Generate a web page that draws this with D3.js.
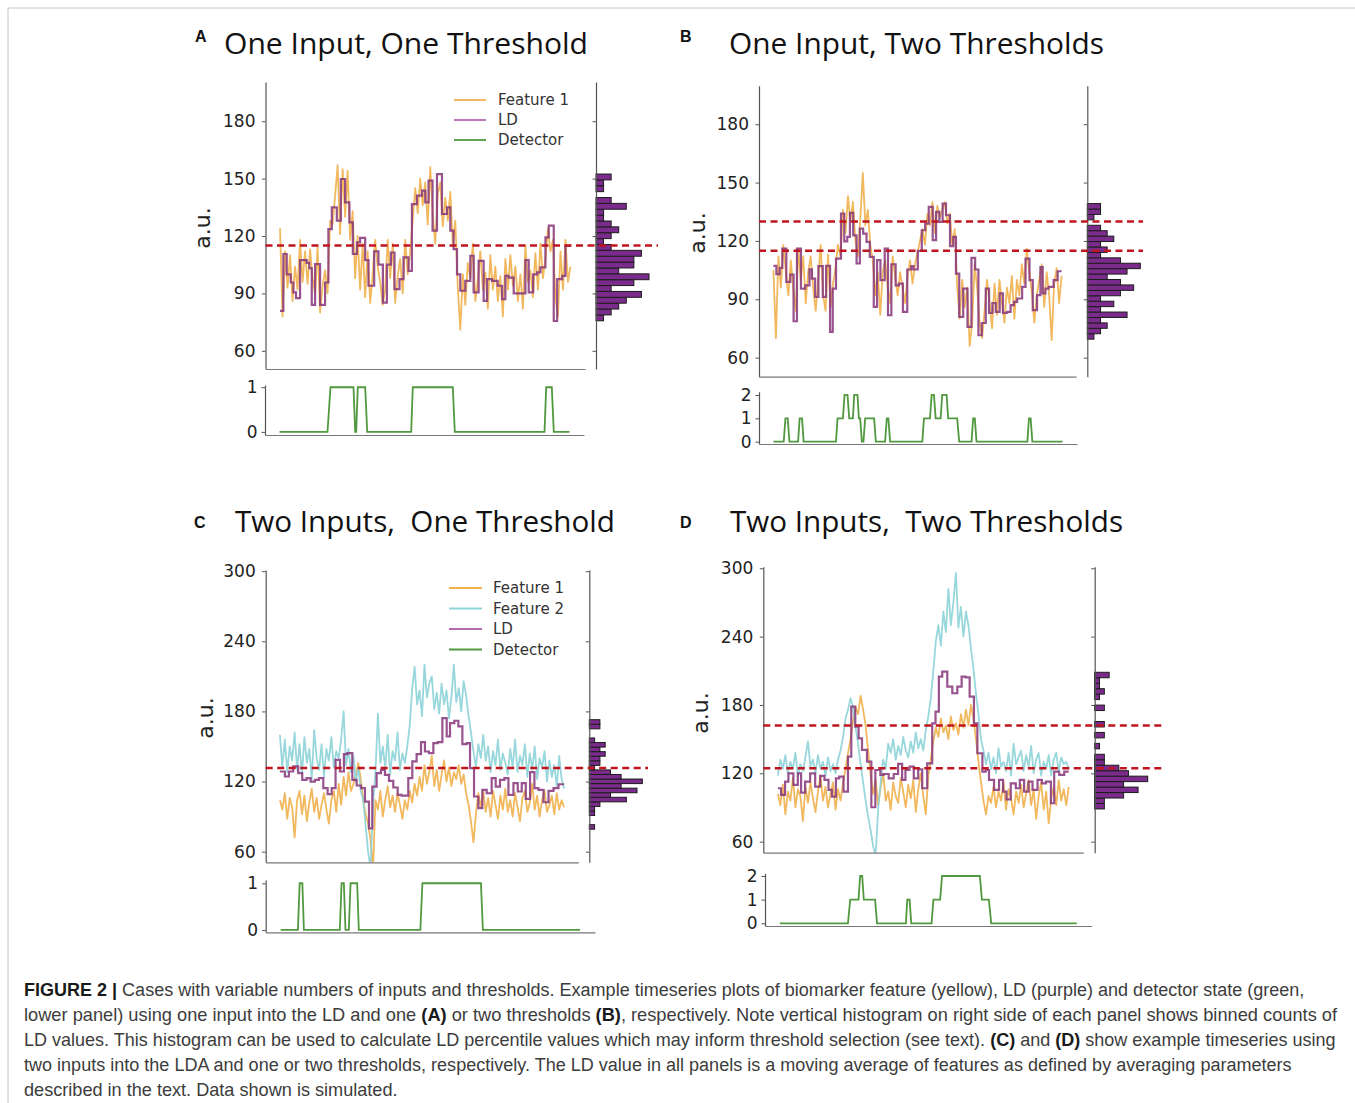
<!DOCTYPE html>
<html>
<head>
<meta charset="utf-8">
<script src="https://cdn.jsdelivr.net/npm/d3@7"></script>
<style>
  body { margin: 0; background: #fff; }
</style>
</head>
<body>
<svg id="fig" width="1355" height="1103"></svg>
<script>
// ---- data (time in samples 0..290, features sampled every 2.5) ----
const T_END = 290;
const STEP = 2.5;

const yTicksAB = [60, 90, 120, 150, 180];
const yTicksCD = [60, 120, 180, 240, 300];
const detTicksOne = [0, 1];
const detTicksTwo = [0, 1, 2];

// Panel A
const featureA1 = [124,78,112,93,110,86,104,92,118,96, 112,95,113,98,90,114,80,94,102,90,
  128,126,141,157,121,155,130,154,118,133, 98,120,92,116,88,112,85,100,118,104,
  96,84,92,118,98,116,85,99,108,90, 118,100,112,128,145,132,150,136,148,126,
  156,130,116,142,148,125,140,128,143,116, 128,93,71,100,84,106,98,116,86,97,
  112,92,101,82,110,92,104,86,99,78, 108,92,110,94,104,86,100,82,115,96,
  102,88,111,92,116,98,108,124,112,118, 88,78,112,92,118,96,104];
const ldA = [[0,80.9],[3.3,110.6],[6.7,100],[10.7,95.7],[13.3,90.5],[16,87.5],[20,107.4],[26.7,106],[29.3,103.2],
  [31.7,84],[35,105.3],[40,84],[45,95.7],[48.3,123.6],[51.7,135],[56.7,128],[60.7,149.8],[65,137.6],[69.3,127.1],
  [72.7,110.6],[76.7,116.7],[80,119],[85,107.4],[88.3,94],[94,112],[98.3,105],[102.7,85.2],[106.7,105],[110.7,111.4],
  [114.3,92.2],[119.3,97.5],[123.3,108.8],[128.3,101.8],[131.7,136.7],[136.7,141.1],[141.7,143.7],[145,137.6],
  [148.3,149],[152.3,122.8],[156.7,152.4],[161.7,131.5],[166.7,135],[170,122.8],[173.3,113.2],[176.7,100],[180,91.4],
  [185,96.6],[190,109.7],[193.3,90.5],[198.3,107],[203.3,86.1],[206.7,97.5],[211.7,96.6],[217.3,94],[221.7,87],
  [225,99.2],[228.3,98.3],[233.3,90],[245,107.4],[248.3,90.5],[252.7,100],[256.7,101],[260,103.6],[265,119.3],
  [268.3,125.4],[273.3,75.6],[276.7,97.5],[281.7,99.2],[285,114.9]];
const detectorA = [[0,0],[48,0],[51,1],[74,1],[75.7,0],[76.7,0],[78.3,1],[85.7,1],[87.7,0],[131.7,0],[133.3,1],
  [173.3,1],[175.3,0],[265,0],[266.7,1],[272.3,1],[274.3,0],[290,0]];
const histRangeA = [75.7, 152.4];
const histCountsA = [1,2,3,4,6,2,5,7,3,5,5,6,2,1,2,3,2,1,1,4,2,0,1,1,2];
const thresholdsA = [115];

// Panel B
const featureB1 = [105,70,112,96,118,104,92,110,95,84, 116,100,112,88,104,112,96,84,100,118,
  92,84,113,86,98,106,118,112,136,124, 143,130,140,120,112,132,155,128,136,118,
  110,92,104,82,104,110,96,88,112,102, 92,104,96,88,102,110,98,108,114,120,
  126,118,134,128,140,124,138,132,136,140, 129,134,118,126,96,80,100,86,96,66,
  78,108,96,78,70,84,100,88,75,98, 82,100,88,78,96,88,102,80,100,92,
  108,98,116,104,94,78,92,100,108,86, 104,92,69,98,106,88,102];
const ldB = [[0,107.2],[3,102.9],[6.3,106.1],[9,116],[13,98.9],[17,102.7],[20.3,78.7],[23.7,116],[27.7,95.5],
  [32,97.2],[36.3,105.4],[38.7,100.6],[42,91.2],[45.3,107],[49.7,91.2],[53,107.2],[57,73.2],[59.7,95.5],[63,110.9],
  [68,134.1],[71.3,119.8],[74.3,122.1],[77,134.4],[80.3,122.9],[83.7,108.4],[87,126.4],[90.3,123.8],[93.7,119.5],
  [97,111.8],[101,86.1],[104.3,110.1],[107.7,99.8],[112,116.1],[115.3,81.8],[118.7,108],[123,97.2],[126.3,98.1],
  [130.3,83.5],[134.7,105.3],[138.7,107],[141,105.3],[145.3,114.9],[149.3,125.5],[152.7,128.9],[156.3,137.5],
  [160.3,120.4],[163.7,134.9],[167,129.8],[170.3,139.2],[173.7,133.2],[177.7,117.3],[181,122.1],[183.7,103.2],
  [187,81],[191,95.5],[195.3,75.8],[199.3,111.3],[203,105.3],[206.3,71.5],[209.7,77.8],[213.7,95.5],[217,83],
  [220.3,88.1],[223.7,83.5],[227.7,93],[231,83],[235.3,83.5],[238.7,87],[242,88.7],[245.3,90.4],[250.3,96.4],
  [253.7,110.9],[257.7,99.8],[261,84.4],[265.3,92.1],[268.7,106.6],[271,93],[273.7,95.5],[277,96.4],[282,99.8],
  [286,104.4]];
const detectorB = [[0,0],[10.3,0],[12,1],[14.3,1],[16,0],[24.7,0],[26.3,1],[28.7,1],[30.3,0],[62.7,0],[64.3,1],
  [69.7,1],[71.3,2],[74.3,2],[76,1],[79.7,1],[81,2],[84.3,2],[85.7,1],[87,1],[88.7,0],[90.3,0],[92,1],[101,1],
  [102.7,0],[112,0],[113.7,1],[115.3,1],[117,0],[149.3,0],[151,1],[157,1],[158.7,2],[161,2],[162.7,1],[167.7,1],
  [169.3,2],[173.7,2],[175.3,1],[184.3,1],[186.3,0],[198.7,0],[200.3,1],[202,1],[203.7,0],[254.7,0],[256.3,1],
  [258,1],[259.7,0],[290,0]];
const histRangeB = [69.5, 139.2];
const histCountsB = [1,2,3,2,6,2,4,2,5,7,5,3,6,8,5,2,3,2,4,3,2,0,1,2,2];
const thresholdsB = [115, 130];

// Panel C
const featureC1 = [104,96,110,88,106,98,72,104,112,92, 108,86,102,114,94,106,88,100,110,96,
  84,104,112,94,118,100,124,108,128,112, 118,126,136,122,104,92,84,70,45,104,
  96,112,90,104,116,98,108,94,110,100, 88,104,96,112,102,118,108,124,112,134,
  118,128,142,116,130,112,126,138,120,132, 116,128,122,134,118,126,110,100,86,68,
  92,110,98,112,94,106,90,112,100,88, 108,96,114,94,104,90,110,98,86,106,
  112,94,102,118,96,108,90,104,112,94, 100,108,92,110,96,104,98];
const featureC2 = [160,132,156,128,150,138,162,130,152,126, 158,136,148,122,164,140,130,152,124,148,
  138,158,132,146,140,156,180,134,148,128, 142,120,132,112,104,82,60,45,100,128,
  178,136,150,132,160,126,146,138,162,130, 144,136,150,168,200,218,186,198,176,220,
  192,204,210,182,196,178,204,186,198,174, 192,220,188,200,180,206,194,176,162,146,
  132,152,140,160,138,150,128,146,134,156, 130,144,136,126,148,132,156,128,142,134,
  152,124,144,130,150,122,140,132,146,120, 138,124,134,116,142,122,114];
const ldC = [[0,128.6],[5.1,124.3],[9.2,128.6],[13.6,132.9],[18.7,127.2],[22.8,121.5],[27.2,122.9],[31.3,120],
  [35.7,121.5],[39.8,122.9],[44.3,114.3],[48.7,109.2],[52.8,114.3],[56.8,138.6],[61.3,128.6],[65.3,143.5],
  [68.8,144.3],[73.9,121.5],[78.3,116.6],[82.7,114.3],[86.8,102.9],[90.9,80],[94.3,115.7],[98.7,127.2],[103.1,130],
  [107.2,125.7],[111.3,120.6],[115.7,114.9],[120.2,108.6],[124.2,108],[131,122.9],[135.1,137.2],[139.5,143.5],
  [144,153.7],[148,145.7],[152.1,144.3],[156.6,152.9],[161,153.7],[165.8,174.3],[170.2,158.6],[173.6,170],
  [178,172],[182.1,167.2],[186.2,152],[190.6,152.9],[194,131.5],[198.1,107.2],[202.5,97.2],[206.6,112.9],
  [211,110],[216.1,122.9],[220.2,115.7],[224.6,121.5],[229.1,122.9],[233.2,108.6],[238.3,118.6],[242.7,111.5],
  [246.8,118.6],[250.9,105.2],[255.3,128],[259.7,114.3],[263.8,112.9],[269,102.3],[274.1,112],[279.2,114.3],
  [284.3,117.7]];
const detectorC = [[0,0],[16.7,0],[18.4,1],[21,1],[22.5,0],[57.3,0],[59,1],[61.2,1],[62.8,0],[66,0],[67.7,1],
  [74.1,1],[75.7,0],[135.3,0],[137.3,1],[194,1],[195.9,0],[290,0]];
const histRangeC = [79.2, 172.9];
const histCountsC = [1,0,0,1,1,2,7,4,9,6,10,6,4,1,2,2,3,2,3,1,0,0,2,2];
const thresholdsC = [131.5];

// Panel D
const featureD1 = [102,92,110,84,104,96,116,90,106,100, 78,108,94,112,98,86,104,118,96,108,
  90,102,112,88,106,96,112,124,138,150, 166,178,172,188,176,162,140,118,102,114,
  92,108,120,96,104,88,112,100,94,116, 104,90,110,98,114,86,106,120,100,84,
  118,132,148,160,152,168,156,162,150,170, 158,164,154,172,160,176,162,180,168,150,
  130,112,96,84,100,94,108,90,104,96, 112,88,106,98,84,104,94,110,90,102,
  114,92,106,80,100,112,88,104,76,98, 108,92,114,96,106,92,108];
const featureD2 = [118,132,124,136,120,130,124,138,118,128, 122,134,148,126,132,120,136,124,130,118,
  134,122,128,120,132,140,152,168,176,186, 178,160,146,128,112,96,82,70,56,48,
  88,112,132,124,146,138,150,132,144,136, 152,140,134,148,138,156,142,150,140,158,
  170,186,210,236,250,232,262,244,282,250, 270,296,248,266,240,262,250,230,212,190,
  172,150,140,128,138,124,134,120,142,126, 130,122,138,118,146,128,134,140,122,136,
  126,144,120,132,138,118,130,124,136,118, 132,138,122,134,128,130,124];
const ldD = [[0,106.9],[3.2,101],[7.2,112.7],[10.5,120],[15.5,109.8],[19.9,120],[23.2,103],[27.2,112.7],[32.2,120],
  [37.2,108.3],[42.2,117.7],[46.5,114.2],[50.5,105.4],[53.9,99.5],[57.9,115.6],[61.2,117.1],[65.5,103.9],
  [69.9,134.6],[73.2,178.5],[77.2,161],[80.5,150.7],[83.9,140.5],[88.9,130.3],[93.2,90.2],[97.2,122.9],
  [102.2,118.6],[105.5,119.4],[110.5,115.6],[115.5,119.4],[119.9,128.2],[123.9,114.2],[127.2,122.9],[131.2,125.9],
  [135.5,115.6],[139.9,123.5],[143.9,106.9],[148.9,128.8],[153.9,163.9],[157.2,174.1],[160.5,204.9],[163.9,209.3],
  [168.9,196.1],[173.9,190.3],[178.9,196.1],[183.2,204.9],[187.2,204.3],[191.2,187.3],[195.5,163.9],[198.9,137.6],
  [203.9,121.5],[207.2,122.9],[210.5,114.2],[215.5,105.4],[220.5,114.2],[224.5,103.9],[227.9,97.2],[232.2,111.2],
  [237.2,106.9],[241.2,114.2],[245.5,103.9],[249.9,112.7],[253.9,105.4],[258.9,114.2],[263.2,111.2],[267.2,112.7],
  [272.2,93.7],[275.5,121.5],[280.5,118.6],[285.5,121.5]];
const detectorD = [[0,0],[66.5,0],[68.7,1],[76.8,1],[78.4,2],[80.4,2],[82,1],[93,1],[94.9,0],[123.1,0],[124.4,1],
  [126.7,1],[128.3,0],[148.1,0],[150,1],[156.5,1],[158.4,2],[195.3,2],[197.3,1],[204.1,1],[206.4,0],[290,0]];
const histRangeD = [88.7, 208.7];
const histCountsD = [2,2,6,9,6,11,7,5,2,2,0,1,0,2,0,2,0,0,2,0,1,2,1,1,3];
const thresholdsD = [124.4, 162];

const captionLines = [
  [["FIGURE 2 | ", true], ["Cases with variable numbers of inputs and thresholds. Example timeseries plots of biomarker feature (yellow), LD (purple) and detector state (green,", false]],
  [["lower panel) using one input into the LD and one ", false], ["(A)", true], [" or two thresholds ", false], ["(B)", true], [", respectively. Note vertical histogram on right side of each panel shows binned counts of", false]],
  [["LD values. This histogram can be used to calculate LD percentile values which may inform threshold selection (see text). ", false], ["(C)", true], [" and ", false], ["(D)", true], [" show example timeseries using", false]],
  [["two inputs into the LDA and one or two thresholds, respectively. The LD value in all panels is a moving average of features as defined by averaging parameters", false]],
  [["described in the text. Data shown is simulated.", false]]
];

// ---- styles ----
const col = {
  feat1: "#f0b04c",
  feat2: "#8dd3d8",
  ld: "#86357a",
  ldLegend: "#b36ab3",
  det: "#51993f",
  thr: "#c0141f",
  hist: "#7b2b8b",
  axis: "#555"
};

const svg = d3.select("#fig");
const defs = svg.append("defs");

// frame
svg.append("path")
  .attr("d", "M8,1103 L8,8 L1355,8")
  .attr("fill", "none")
  .attr("stroke", "#c4c4c4")
  .attr("stroke-width", 1);

function styleAxis(g, size) {
  g.attr("font-family", "DejaVu Sans").attr("font-size", size);
  g.select(".domain").attr("stroke", col.axis).attr("stroke-width", 1.2);
  g.selectAll(".tick line").attr("stroke", col.axis).attr("stroke-width", 1);
  g.selectAll(".tick text").attr("fill", "#222");
}

function drawPanel(p) {
  const g = svg.append("g");
  const xDomain = [-0.05 * T_END, 1.05 * T_END];

  // main time-series axes
  const x = d3.scaleLinear().domain(xDomain).range(p.mainX);
  const y = d3.scaleLinear().domain(p.yDomain).range(p.mainY);

  defs.append("clipPath").attr("id", "clip" + p.key)
    .append("rect")
    .attr("x", p.mainX[0]).attr("y", p.mainY[1])
    .attr("width", p.mainX[1] - p.mainX[0])
    .attr("height", p.mainY[0] - p.mainY[1]);

  const plot = g.append("g").attr("clip-path", `url(#clip${p.key})`);

  const featLine = d3.line().x((d, i) => x(i * STEP)).y(d => y(d));
  p.features.forEach(f => {
    plot.append("path")
      .datum(f.values)
      .attr("d", featLine)
      .attr("fill", "none")
      .attr("stroke", f.color)
      .attr("stroke-width", 1.8)
      .attr("stroke-opacity", 0.9)
      .attr("stroke-linejoin", "round");
  });

  const ldPts = p.ld.concat([[T_END, p.ld[p.ld.length - 1][1]]]);
  plot.append("path")
    .datum(ldPts)
    .attr("d", d3.line().curve(d3.curveStepAfter).x(d => x(d[0])).y(d => y(d[1])))
    .attr("fill", "none")
    .attr("stroke", col.ld)
    .attr("stroke-width", 2.2)
    .attr("stroke-opacity", 0.85);

  // axes of the main plot
  const yAxis = g.append("g")
    .attr("transform", `translate(${p.mainX[0]},0)`)
    .call(d3.axisLeft(y).tickValues(p.yTicks).tickSize(3.5).tickPadding(6.5).tickSizeOuter(0));
  styleAxis(yAxis, 17);

  const xAxis = g.append("g")
    .attr("transform", `translate(0,${p.mainY[0]})`)
    .call(d3.axisBottom(x).tickValues([]).tickSizeOuter(0));
  styleAxis(xAxis, 17);
  xAxis.select(".domain").attr("stroke", "#777");

  // y label
  g.append("text")
    .attr("transform", `translate(${p.auPos[0]},${p.auPos[1]}) rotate(-90)`)
    .attr("text-anchor", "middle")
    .attr("dy", "0.35em")
    .attr("font-family", "DejaVu Sans")
    .attr("font-size", 22)
    .attr("fill", "#222")
    .text("a.u.");

  // marginal histogram of LD values
  const nb = p.histCounts.length;
  const bw = (p.histRange[1] - p.histRange[0]) / nb;
  const hx = d3.scaleLinear().domain([0, d3.max(p.histCounts)]).range([p.histX0, p.histX0 + 53]);
  g.append("g").selectAll("rect")
    .data(p.histCounts.map((c, i) => ({ c, lo: p.histRange[0] + i * bw, hi: p.histRange[0] + (i + 1) * bw })))
    .enter()
    .filter(d => d.c > 0)
    .append("rect")
    .attr("x", hx(0))
    .attr("y", d => y(d.hi))
    .attr("width", d => hx(d.c) - hx(0))
    .attr("height", d => y(d.lo) - y(d.hi))
    .attr("fill", col.hist)
    .attr("stroke", "#1c1c1c")
    .attr("stroke-width", 1);

  const hAxis = g.append("g")
    .attr("transform", `translate(${p.histX0},0)`)
    .call(d3.axisLeft(y).tickValues(p.yTicks).tickFormat("").tickSize(3.5).tickSizeOuter(0));
  styleAxis(hAxis, 17);

  // thresholds
  g.append("g").selectAll("line")
    .data(p.thresholds)
    .enter()
    .append("line")
    .attr("x1", p.mainX[0])
    .attr("x2", p.thrEnd)
    .attr("y1", d => y(d))
    .attr("y2", d => y(d))
    .attr("stroke", col.thr)
    .attr("stroke-width", 2.5)
    .attr("stroke-dasharray", "7,4.5");

  // detector state panel
  const xd = d3.scaleLinear().domain(xDomain).range(p.detX);
  const yd = d3.scaleLinear().domain(p.detDomain).range(p.detY);
  g.append("path")
    .datum(p.detector)
    .attr("d", d3.line().x(d => xd(d[0])).y(d => yd(d[1])))
    .attr("fill", "none")
    .attr("stroke", col.det)
    .attr("stroke-width", 1.8);

  const dyAxis = g.append("g")
    .attr("transform", `translate(${p.detX[0]},0)`)
    .call(d3.axisLeft(yd).tickValues(p.detTicks).tickFormat(d3.format("d")).tickSize(3.5).tickPadding(4).tickSizeOuter(0));
  styleAxis(dyAxis, 17);

  const dxAxis = g.append("g")
    .attr("transform", `translate(0,${p.detY[0]})`)
    .call(d3.axisBottom(xd).tickValues([]).tickSizeOuter(0));
  styleAxis(dxAxis, 17);
  dxAxis.select(".domain").attr("stroke", "#777");

  // legend
  if (p.legend) {
    const lg = g.append("g");
    p.legend.items.forEach((it, i) => {
      const yy = p.legend.y0 + i * p.legend.dy;
      lg.append("line")
        .attr("x1", p.legend.x1).attr("x2", p.legend.x2)
        .attr("y1", yy).attr("y2", yy)
        .attr("stroke", it.color).attr("stroke-width", 1.8);
      lg.append("text")
        .attr("x", p.legend.tx).attr("y", yy)
        .attr("dy", "0.35em")
        .attr("font-family", "DejaVu Sans")
        .attr("font-size", 15)
        .attr("fill", "#333")
        .text(it.label);
    });
  }

  // title + panel letter
  g.append("text")
    .attr("x", p.title.x).attr("y", p.title.y)
    .attr("font-family", "Open Sans")
    .attr("font-size", 30)
    .attr("fill", "#111")
    .attr("textLength", p.title.w)
    .attr("lengthAdjust", "spacingAndGlyphs")
    .text(p.title.text);
  g.append("text")
    .attr("x", p.letter.x).attr("y", p.letter.y)
    .attr("font-family", "Liberation Sans")
    .attr("font-weight", "bold")
    .attr("font-size", 16)
    .attr("fill", "#111")
    .text(p.key);
}

const legendItemsA = [
  { label: "Feature 1", color: col.feat1 },
  { label: "LD", color: col.ldLegend },
  { label: "Detector", color: col.det }
];
const legendItemsC = [
  { label: "Feature 1", color: col.feat1 },
  { label: "Feature 2", color: col.feat2 },
  { label: "LD", color: col.ldLegend },
  { label: "Detector", color: col.det }
];

drawPanel({
  key: "A",
  features: [{ values: featureA1, color: col.feat1 }],
  ld: ldA, detector: detectorA, histCounts: histCountsA, histRange: histRangeA, thresholds: thresholdsA,
  mainX: [265.5, 585], mainY: [369, 82], yDomain: [50.5, 200.5], yTicks: yTicksAB,
  histX0: 596, thrEnd: 658,
  detX: [265, 584], detY: [435, 385], detDomain: [-0.07, 1.05], detTicks: detTicksOne,
  auPos: [202, 228],
  title: { x: 224, y: 54, w: 364, text: "One Input, One Threshold" },
  letter: { x: 195, y: 42 },
  legend: { x1: 454, x2: 486, tx: 498, y0: 100, dy: 20, items: legendItemsA }
});

drawPanel({
  key: "B",
  features: [{ values: featureB1, color: col.feat1 }],
  ld: ldB, detector: detectorB, histCounts: histCountsB, histRange: histRangeB, thresholds: thresholdsB,
  mainX: [759, 1076], mainY: [376.7, 85.7], yDomain: [50.2, 199.8], yTicks: yTicksAB,
  histX0: 1087.3, thrEnd: 1143,
  detX: [759, 1077], detY: [444, 391.7], detDomain: [-0.1, 2.14], detTicks: detTicksTwo,
  auPos: [697, 233],
  title: { x: 729, y: 54, w: 375, text: "One Input, Two Thresholds" },
  letter: { x: 680, y: 42 },
  legend: null
});

drawPanel({
  key: "C",
  features: [{ values: featureC1, color: col.feat1 }, { values: featureC2, color: col.feat2 }],
  ld: ldC, detector: detectorC, histCounts: histCountsC, histRange: histRangeC, thresholds: thresholdsC,
  mainX: [265.7, 578.3], mainY: [862.3, 570], yDomain: [50.9, 301], yTicks: yTicksCD,
  histX0: 589.3, thrEnd: 648,
  detX: [265.7, 595], detY: [932.3, 880], detDomain: [-0.05, 1.07], detTicks: detTicksOne,
  auPos: [205, 718],
  title: { x: 235, y: 532, w: 380, text: "Two Inputs,\u00a0 One Threshold" },
  letter: { x: 194, y: 528 },
  legend: { x1: 449, x2: 482, tx: 493, y0: 588, dy: 20.5, items: legendItemsC }
});

drawPanel({
  key: "D",
  features: [{ values: featureD1, color: col.feat1 }, { values: featureD2, color: col.feat2 }],
  ld: ldD, detector: detectorD, histCounts: histCountsD, histRange: histRangeD, thresholds: thresholdsD,
  mainX: [763.3, 1083.3], mainY: [852.7, 566.7], yDomain: [50.3, 301.4], yTicks: yTicksCD,
  histX0: 1094.7, thrEnd: 1163,
  detX: [765, 1091.7], detY: [926, 873.3], detDomain: [-0.114, 2.114], detTicks: detTicksTwo,
  auPos: [700, 713],
  title: { x: 730, y: 532, w: 393, text: "Two Inputs,\u00a0 Two Thresholds" },
  letter: { x: 680, y: 528 },
  legend: null
});

// caption: each line is set naturally, then squeezed horizontally to the reference width
const captionWidths = [1281, 1314, 1313, 1268, 374];
const cap = svg.append("g")
  .attr("font-family", "'Liberation Sans', Arial, sans-serif")
  .attr("font-size", 18);
captionLines.forEach((parts, i) => {
  const row = cap.append("g");
  const t = row.append("text")
    .attr("x", 0)
    .attr("y", 0)
    .attr("xml:space", "preserve");
  parts.forEach(([s, bold]) => {
    t.append("tspan")
      .attr("font-weight", bold ? "bold" : "normal")
      .attr("fill", bold ? "#1a1a1a" : "#3c3c3c")
      .text(s);
  });
  const natural = t.node().getComputedTextLength();
  const sx = natural > 0 ? captionWidths[i] / natural : 1;
  row.attr("transform", `translate(24,${996 + i * 25}) scale(${sx},1)`);
});
</script>
</body>
</html>
